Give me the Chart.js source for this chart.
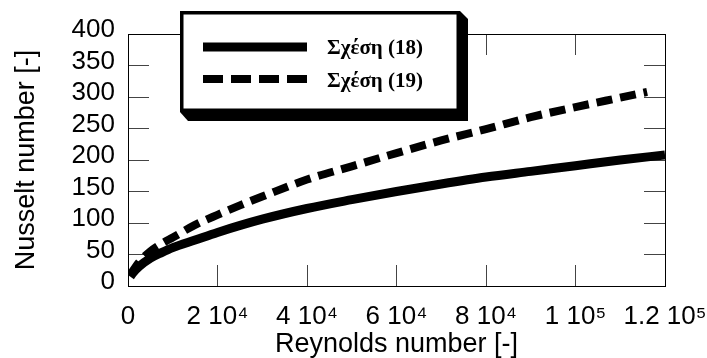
<!DOCTYPE html>
<html>
<head>
<meta charset="utf-8">
<script src="https://cdn.jsdelivr.net/npm/chart.js@4.4.0/dist/chart.umd.min.js"></script>
<style>
  html, body { margin: 0; padding: 0; background: #fff; }
  #wrap { width: 707px; height: 358px; }
</style>
</head>
<body>
<div id="wrap"><canvas id="graphe" width="707" height="358"></canvas></div>
<script>
// valeurs (Nu en fonction de Re)
const reynolds18 = [500, 1000, 2500, 5000, 7500, 10000, 15000, 20000, 30000, 40000, 50000, 60000, 70000, 80000, 90000, 100000, 110000, 120000];
const nusselt18 = [15, 20, 31, 44, 53, 61, 73, 85, 106, 123, 137, 150, 162, 173, 182, 191, 200, 208];
const reynolds19 = [500, 1000, 2500, 5000, 7500, 10000, 15000, 20000, 25000, 30000, 40000, 50000, 60000, 70000, 80000, 90000, 100000, 110000, 116000];
const nusselt19 = [17, 23, 38, 55, 67, 77, 97, 113, 128, 142, 169, 190, 211, 231, 249, 268, 284, 299, 308];
const seriesLabels = ['Σχέση (18)', 'Σχέση (19)'];
const xTicks = [0, 20000, 40000, 60000, 80000, 100000, 120000];
const xTickLabels = ['0', '2 10⁴', '4 10⁴', '6 10⁴', '8 10⁴', '1 10⁵', '1.2 10⁵'];

Chart.defaults.font.family = 'Arial, "Liberation Sans", sans-serif';
Chart.defaults.color = '#000';

// graduations tournées vers l'intérieur (tickLength négatif) + bordure noire
const grilleInt = { display: true, drawOnChartArea: false, drawTicks: true, tickLength: -21, color: '#444', lineWidth: 1 };
const bordure = { display: true, color: '#000', width: 1 };

// taille fixe de chaque axe, sans la marge ajoutée pour les étiquettes
function tailleFixe(prop, valeur) {
  return s => {
    s[prop] = valeur;
    s.paddingLeft = 0; s.paddingRight = 0; s.paddingTop = 0; s.paddingBottom = 0;
  };
}

// légende encadrée avec ombre
const legendeBoite = {
  id: 'legendeBoite',
  afterDraw(chart) {
    const ctx = chart.ctx;
    const bx = 180, by = 11, bw = 280, bh = 101;
    ctx.save();
    ctx.fillStyle = '#000';
    ctx.beginPath();
    ctx.moveTo(bx, by + bh);
    ctx.lineTo(bx + 8, by + bh + 9);
    ctx.lineTo(bx + bw + 8, by + bh + 9);
    ctx.lineTo(bx + bw + 8, by + 8);
    ctx.lineTo(bx + bw, by);
    ctx.closePath();
    ctx.fill();
    ctx.fillStyle = '#fff';
    ctx.fillRect(bx, by, bw, bh);
    ctx.lineWidth = 3.5;
    ctx.strokeStyle = '#000';
    ctx.strokeRect(bx + 1.75, by + 1.75, bw - 3.5, bh - 3.5);
    chart.data.datasets.forEach((ds, i) => {
      const ly = 47 + i * 32;
      ctx.beginPath();
      ctx.lineWidth = ds.borderWidth;
      ctx.lineCap = 'butt';
      ctx.setLineDash(ds.borderDash.length ? [20, 8] : []);
      ctx.moveTo(203, ly);
      ctx.lineTo(307, ly);
      ctx.stroke();
      ctx.setLineDash([]);
      ctx.fillStyle = '#000';
      ctx.font = 'bold 21px "Times New Roman", "Liberation Serif", serif';
      ctx.textBaseline = 'alphabetic';
      ctx.fillText(ds.label, 327, 54 + i * 33);
    });
    ctx.restore();
  }
};

new Chart(document.getElementById('graphe').getContext('2d'), {
  type: 'line',
  data: {
    datasets: [{
      label: seriesLabels[0],
      data: reynolds18.map((r, i) => ({ x: r, y: nusselt18[i] })),
      borderColor: '#000',
      borderWidth: 9,
      borderDash: [],
      borderCapStyle: 'butt',
      cubicInterpolationMode: 'monotone',
      pointRadius: 0,
      fill: false
    }, {
      label: seriesLabels[1],
      data: reynolds19.map((r, i) => ({ x: r, y: nusselt19[i] })),
      borderColor: '#000',
      borderWidth: 8,
      borderDash: [16, 8],
      borderCapStyle: 'butt',
      cubicInterpolationMode: 'monotone',
      pointRadius: 0,
      fill: false
    }]
  },
  options: {
    responsive: false,
    animation: false,
    layout: { padding: 0 },
    plugins: {
      legend: { display: false },
      tooltip: { enabled: false }
    },
    scales: {
      x: {
        type: 'linear',
        position: 'bottom',
        min: 0,
        max: 120000,
        afterFit: tailleFixe('height', 72),
        afterBuildTicks: s => { s.ticks = xTicks.map(v => ({ value: v })); },
        grid: grilleInt,
        border: bordure,
        ticks: {
          padding: 36,
          maxRotation: 0,
          autoSkip: false,
          font: { size: 26 },
          callback: v => xTickLabels[xTicks.indexOf(v)]
        },
        title: {
          display: true,
          text: 'Reynolds number [-]',
          font: { size: 27, lineHeight: 1 },
          padding: { top: 0, bottom: 0 }
        }
      },
      xHaut: {
        type: 'linear',
        position: 'top',
        min: 0,
        max: 120000,
        afterFit: tailleFixe('height', 34),
        afterBuildTicks: s => { s.ticks = xTicks.map(v => ({ value: v })); },
        grid: grilleInt,
        border: bordure,
        ticks: { display: false }
      },
      y: {
        position: 'left',
        min: 0,
        max: 400,
        afterFit: tailleFixe('width', 128),
        grid: grilleInt,
        border: bordure,
        ticks: {
          stepSize: 50,
          autoSkip: false,
          padding: 34,
          labelOffset: -4,
          font: { size: 26 }
        },
        title: {
          display: true,
          text: 'Nusselt number [-]',
          font: { size: 27, lineHeight: 1.2 },
          padding: { top: 10, bottom: 0 }
        }
      },
      yDroite: {
        position: 'right',
        min: 0,
        max: 400,
        afterFit: tailleFixe('width', 42),
        grid: grilleInt,
        border: bordure,
        ticks: { display: false, stepSize: 50, autoSkip: false }
      }
    }
  },
  plugins: [legendeBoite]
});
</script>
</body>
</html>
